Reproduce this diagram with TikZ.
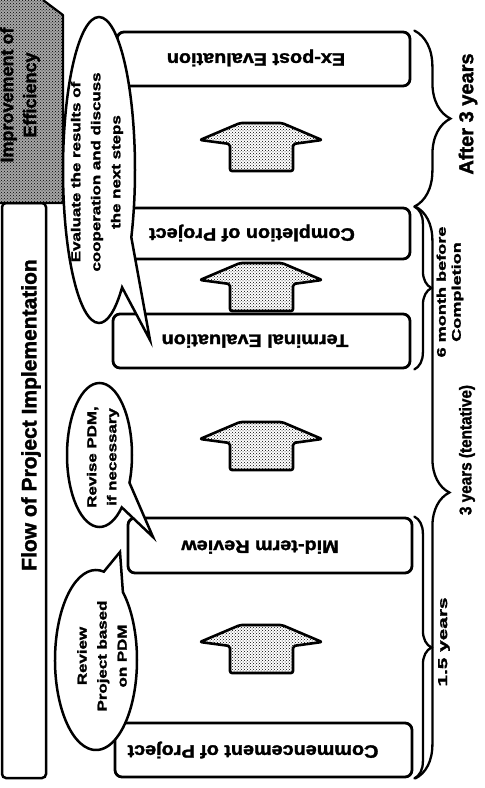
\documentclass[tikz,border=0pt]{standalone}
\usepackage{fontspec}
\setmainfont{Liberation Sans}[BoldFeatures={FakeBold=1.6}]
\usetikzlibrary{shapes.callouts,decorations.pathreplacing,patterns}

\tikzset{
  stagebox/.style={draw, line width=2.8pt, rounded corners=7pt, fill=white, inner sep=0pt},
  stagetext/.style={font=\bfseries\fontsize{18}{20}\selectfont, rotate=180, xscale=1.1, inner sep=0pt},
  bubble/.style={ellipse callout, draw, fill=white, line width=2.5pt, inner sep=0pt, callout pointer arc=24},
  bubbletext/.style={font=\bfseries\fontsize{13}{20}\selectfont, rotate=90, xscale=1.3, align=center, inner sep=0pt},
  spanbrace/.style={decorate, line width=2.3pt, line cap=round},
  uparrow/.pic={
    \draw[line width=2.6pt, line join=round, rounded corners=2pt, fill=white,
          postaction={pattern=crosshatch dots}]
      (-61,17) -- (-21,0) -- (21,0) -- (61,17) -- (32,21) -- (32,48)
      -- (-31,48) -- (-31,21) -- cycle;
  }
}

\begin{document}
\begin{tikzpicture}[x=1pt, y=-1pt]
\useasboundingbox (0,0) rectangle (485,788);
\fill[white] (0,0) rectangle (485,788);

% title bar with its heading
\node[draw, line width=2.5pt, rounded corners=4pt, minimum width=44pt,
      minimum height=575pt, inner sep=0pt] (titlebar) at (24,490.5) {};
\node[font=\bfseries\fontsize{21}{24}\selectfont, rotate=90, inner sep=0pt]
      (title) at (31,415) {Flow of Project Implementation};

% shaded corner panel
\fill[black!35] (0,0) -- (43,0) -- (63,15) -- (63,203) -- (0,203) -- cycle;
\path[pattern=crosshatch dots] (0,0) -- (43,0) -- (63,15) -- (63,203) -- (0,203) -- cycle;
\draw[line width=2.2pt, line join=round] (43,0) -- (63,15) -- (63,203) -- (0,203);
\node[font=\bfseries\fontsize{18}{23}\selectfont, rotate=90, align=center, inner sep=0pt]
      (panel) at (20,95) {Improvement of\\Efficiency};

% project stages
\node[stagebox, minimum width=293pt, minimum height=54pt] (expost)     at (263.5,59)   {};
\node[stagebox, minimum width=298pt, minimum height=51pt] (completion) at (261,233.5)  {};
\node[stagebox, minimum width=297pt, minimum height=54pt] (terminal)   at (261.5,341)  {};
\node[stagebox, minimum width=284pt, minimum height=55pt] (midterm)    at (270,545.5)  {};
\node[stagebox, minimum width=297pt, minimum height=54pt] (commence)   at (263.5,750)  {};

\node[stagetext] (expost-t)     at (256,58)  {Ex-post Evaluation};
\node[stagetext] (completion-t) at (252,233) {Completion of Project};
\node[stagetext] (terminal-t)   at (255,341) {Terminal Evaluation};
\node[stagetext] (midterm-t)    at (260,547) {Mid-term Review};
\node[stagetext] (commence-t)   at (253,750) {Commencement of Project};

% progress arrows between stages
\pic (stepA) at (261,625) {uparrow};
\pic (stepB) at (261,422) {uparrow};
\pic (stepC) at (261,263) {uparrow};
\pic (stepD) at (261,123) {uparrow};

% speech bubbles
\node[bubble, minimum width=72pt, minimum height=306pt,
      callout absolute pointer={(150,340)}] (bubbleA) at (99,170) {};
\node[bubbletext] (bubbleA-t) at (97,172)
      {Evaluate the results of\\cooperation and discuss\\the next steps};

\node[bubble, minimum width=65pt, minimum height=144pt,
      callout absolute pointer={(153,537)}] (bubbleB) at (99.5,455) {};
\node[bubbletext] (bubbleB-t) at (103,457) {Revise PDM,\\if necessary};

\node[bubble, minimum width=82pt, minimum height=180pt, callout pointer arc=30,
      callout absolute pointer={(120,552)}] (bubbleC) at (96,660) {};
\node[bubbletext] (bubbleC-t) at (102,656) {Review\\Project based\\on PDM};

% time spans
\draw[spanbrace, decoration={brace, amplitude=36pt}]
  ([xshift=3pt]expost.north east) -- ([xshift=3pt]completion.north east);
\draw[spanbrace, decoration={brace, amplitude=17pt}]
  ([xshift=3pt]completion.north east) -- ([xshift=3pt]terminal.south east);
\draw[spanbrace, decoration={brace, amplitude=34pt}]
  ([xshift=4pt]completion.north east) -- ([xshift=2pt]commence.south east);
\draw[spanbrace, decoration={brace, amplitude=17pt}]
  ([xshift=1pt]midterm.north east) -- ([xshift=1pt]commence.south east);

\node[font=\bfseries\fontsize{20}{22}\selectfont, rotate=90, inner sep=0pt]
      (span-after) at (468,114) {After 3 years};
\node[font=\bfseries\fontsize{12.5}{15}\selectfont, rotate=90, xscale=1.45,
      align=center, inner sep=0pt] (span-six) at (450,292) {6 month before\\Completion};
\node[font=\bfseries\fontsize{17}{19}\selectfont, rotate=90, xscale=0.9, inner sep=0pt]
      (span-three) at (467,450) {3 years (tentative)};
\node[font=\bfseries\fontsize{13}{15}\selectfont, rotate=90, xscale=1.6, inner sep=0pt]
      (span-half) at (444,642) {1.5 years};
\end{tikzpicture}
\end{document}
